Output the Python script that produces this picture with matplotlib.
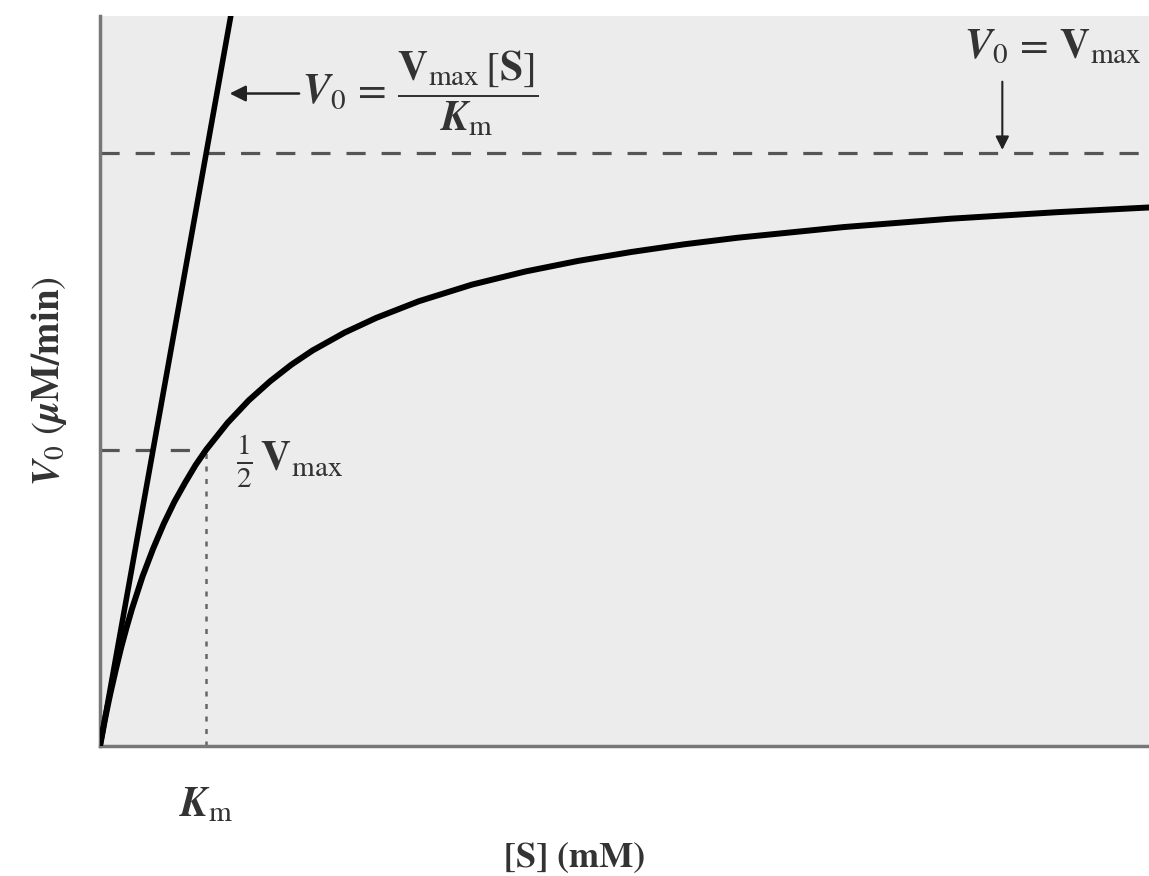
import numpy as np
import matplotlib.pyplot as plt

plt.rcParams['mathtext.fontset'] = 'stix'
plt.rcParams['font.family'] = 'STIXGeneral'

# values (Km = 1 mM, Vmax = 1)
s_mm = [0, 0.025, 0.05, 0.075, 0.1, 0.15, 0.2, 0.25, 0.3, 0.4, 0.5, 0.6,
        0.7, 0.8, 0.9, 1.0, 1.2, 1.4, 1.6, 1.8, 2.0, 2.3, 2.6, 3.0, 3.5,
        4.0, 4.5, 5.0, 5.5, 6.0, 7.0, 8.0, 9.0, 9.87]
v0 = [0, 0.024, 0.048, 0.070, 0.091, 0.130, 0.167, 0.200, 0.231, 0.286,
      0.333, 0.375, 0.412, 0.444, 0.474, 0.500, 0.545, 0.583, 0.615, 0.643,
      0.667, 0.697, 0.722, 0.750, 0.778, 0.800, 0.818, 0.833, 0.846, 0.857,
      0.875, 0.889, 0.900, 0.908]
km = 1.0
vmax = 1.0
tangent_s = [0, 1.3]
tangent_v = [0, 1.3]

fig = plt.figure(figsize=(11.49, 8.76), dpi=100)
ax = fig.add_axes([0.087, 0.148, 0.913, 0.834])
ax.set_facecolor('#ececec')

ax.plot(s_mm, v0, color='black', lw=4.3, solid_capstyle='round',
        solid_joinstyle='round', zorder=3)
ax.plot(tangent_s, tangent_v, color='black', lw=4.0, zorder=3)

dash = dict(color='#555555', lw=2.3, dashes=(6, 5), zorder=2)
ax.axhline(vmax, **dash)
ax.plot([0, km], [vmax / 2, vmax / 2], **dash)
ax.plot([km, km], [0, vmax / 2], color='#666666', lw=1.8, dashes=(2, 3), zorder=2)

ax.set_xlim(0, 9.87)
ax.set_ylim(0, 1.231)
ax.set_xticks([])
ax.set_yticks([])
for side in ['top', 'right']:
    ax.spines[side].set_visible(False)
for side in ['left', 'bottom']:
    ax.spines[side].set_color('#777777')
    ax.spines[side].set_linewidth(2.5)

txt = '#333333'
ax.annotate(r'$\boldsymbol{V}_0\,=\,\dfrac{\mathbf{V}_{\mathrm{max}}\,[\mathbf{S}]}{\boldsymbol{K}_{\mathrm{m}}}$',
            xy=(1.22, 1.1), xytext=(1.9, 1.1), va='center', ha='left',
            fontsize=30, color=txt,
            arrowprops=dict(arrowstyle='-|>', color='#222222', lw=1.8,
                            mutation_scale=24, shrinkA=0, shrinkB=0))
ax.text(9.8, 1.177, r'$\boldsymbol{V}_0\,=\,\mathbf{V}_{\mathrm{max}}$', ha='right',
        va='center', fontsize=30, color=txt)
ax.annotate('', xy=(8.49, vmax + 0.005), xytext=(8.49, 1.12),
            arrowprops=dict(arrowstyle='-|>', color='#222222', lw=1.5,
                            mutation_scale=20, shrinkA=0, shrinkB=0))
ax.text(1.28, vmax / 2 - 0.02, r'$\frac{1}{2}\,\mathbf{V}_{\mathrm{max}}$',
        ha='left', va='center', fontsize=30, color=txt)
ax.text(km, -0.1, r'$\boldsymbol{K}_{\mathrm{m}}$', ha='center', va='center',
        fontsize=30, color=txt)

fig.text(0.5, 0.02, '[S] (mM)', ha='center', va='center', fontsize=26,
         color=txt, weight='bold')
ax.set_ylabel(r'$\boldsymbol{V}_0\ (\boldsymbol{\mu}\mathbf{M/min})$', fontsize=28,
              color=txt, labelpad=22)

fig.savefig('out.png', dpi=100)
